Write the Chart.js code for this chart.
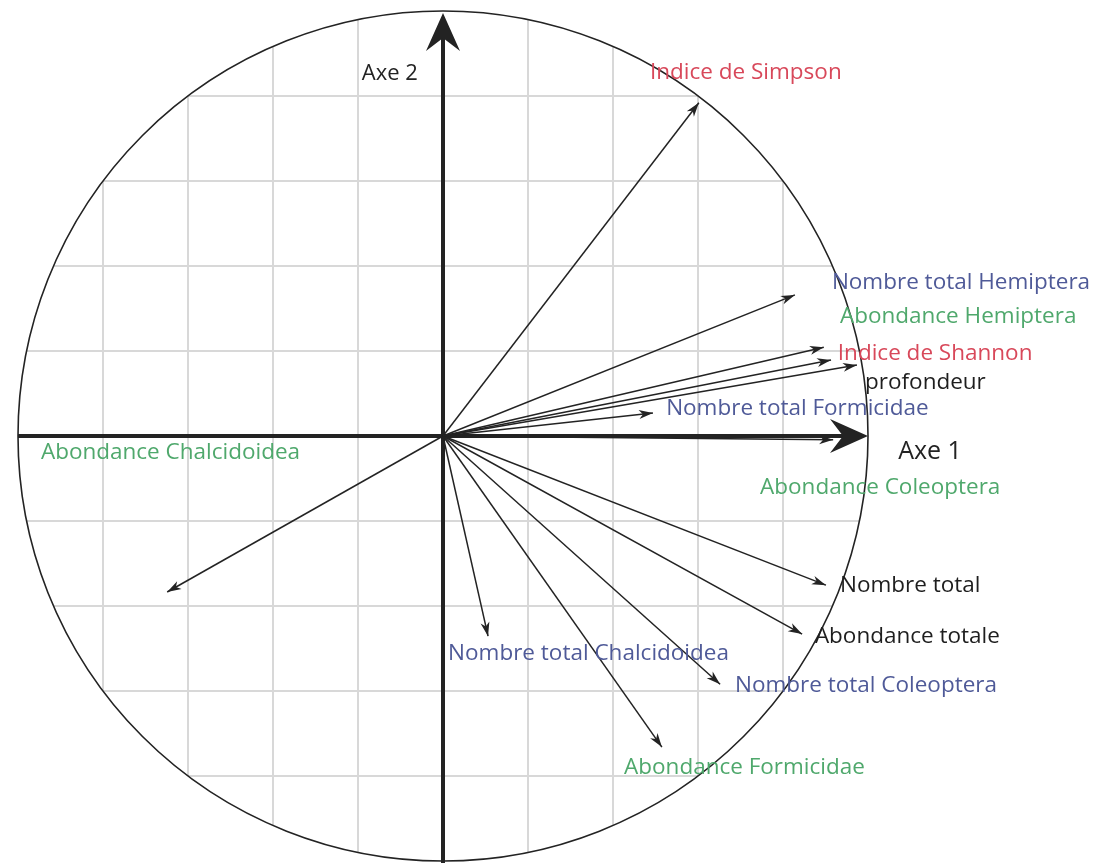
<!DOCTYPE html>
<html>
<head>
<meta charset="utf-8">
<title>Cercle des corrélations</title>
<script src="https://cdn.jsdelivr.net/npm/chart.js@4.4.1/dist/chart.umd.min.js"></script>
<style>
  html, body { margin: 0; padding: 0; background: #fff; }
  canvas { display: block; }
</style>
</head>
<body>
<canvas id="acp" width="1100" height="863"></canvas>
<script>
// variables projetées sur le plan factoriel 1-2
const variables = [
  'Indice de Simpson',
  'Nombre total Hemiptera',
  'Abondance Hemiptera',
  'Indice de Shannon',
  'profondeur',
  'Nombre total Formicidae',
  'Abondance Coleoptera',
  'Nombre total',
  'Abondance totale',
  'Nombre total Coleoptera',
  'Abondance Formicidae',
  'Nombre total Chalcidoidea',
  'Abondance Chalcidoidea'
];
const axe1 = [0.602, 0.828, 0.896, 0.913, 0.974, 0.494, 0.918, 0.901, 0.845, 0.652, 0.515, 0.106, -0.649];
const axe2 = [0.784, 0.332, 0.209, 0.179, 0.167, 0.054, -0.009, -0.351, -0.466, -0.584, -0.732, -0.471, -0.367];

// couleur et emplacement (coin gauche, milieu du texte) de chaque étiquette
const labelColours = ['#d8485a', '#4f5a98', '#4fa86c', '#d8485a', '#1e1e1e', '#4f5a98', '#4fa86c',
                      '#1e1e1e', '#1e1e1e', '#4f5a98', '#4fa86c', '#4f5a98', '#4fa86c'];
const labelPos = [
  [0.487, 0.856], [0.915, 0.362], [0.934, 0.280], [0.929, 0.195], [0.993, 0.125],
  [0.525, 0.064], [0.746, -0.122], [0.934, -0.353], [0.875, -0.473], [0.687, -0.588],
  [0.426, -0.781], [0.012, -0.513], [-0.946, -0.038]
];

const FONT = '"Open Sans", "DejaVu Sans", sans-serif';
const INK = '#232323';

// petite flèche pleine avec encoche, pointe en (x, y)
function arrowHead(ctx, x, y, angle, len, half, notch) {
  ctx.save();
  ctx.translate(x, y);
  ctx.rotate(angle);
  ctx.beginPath();
  ctx.moveTo(0, 0);
  ctx.lineTo(-len, -half);
  ctx.lineTo(-len + notch, 0);
  ctx.lineTo(-len, half);
  ctx.closePath();
  ctx.fill();
  ctx.restore();
}

const cerclePlugin = {
  id: 'cercle',
  beforeDatasetsDraw(chart) {
    const { ctx, scales: { x, y } } = chart;
    const cx = x.getPixelForValue(0), cy = y.getPixelForValue(0);
    const r = x.getPixelForValue(1) - cx;

    // quadrillage limité au cercle
    ctx.save();
    ctx.beginPath();
    ctx.arc(cx, cy, r, 0, Math.PI * 2);
    ctx.clip();
    ctx.strokeStyle = '#d8d8d8';
    ctx.lineWidth = 2;
    x.ticks.forEach(t => {
      if (Math.abs(t.value) < 1e-6 || Math.abs(t.value) >= 1) return;
      const px = x.getPixelForValue(t.value);
      ctx.beginPath(); ctx.moveTo(px, cy - r); ctx.lineTo(px, cy + r); ctx.stroke();
    });
    y.ticks.forEach(t => {
      if (Math.abs(t.value) < 1e-6 || Math.abs(t.value) >= 1) return;
      const py = y.getPixelForValue(t.value);
      ctx.beginPath(); ctx.moveTo(cx - r, py); ctx.lineTo(cx + r, py); ctx.stroke();
    });
    ctx.restore();

    // cercle des corrélations
    ctx.save();
    ctx.strokeStyle = INK;
    ctx.lineWidth = 1.6;
    ctx.beginPath();
    ctx.arc(cx, cy, r, 0, Math.PI * 2);
    ctx.stroke();

    // axes factoriels
    ctx.lineWidth = 4;
    ctx.beginPath();
    ctx.moveTo(cx - r, cy); ctx.lineTo(cx + r - 20, cy);
    ctx.moveTo(cx, chart.height); ctx.lineTo(cx, cy - r + 20);
    ctx.stroke();
    ctx.fillStyle = INK;
    arrowHead(ctx, cx + r, cy, 0, 38, 17, 13);
    arrowHead(ctx, cx, cy - r + 2, -Math.PI / 2, 38, 17, 13);
    ctx.restore();
  },
  afterDatasetsDraw(chart) {
    const { ctx, scales: { x, y } } = chart;
    const cx = x.getPixelForValue(0), cy = y.getPixelForValue(0);
    ctx.save();
    ctx.fillStyle = INK;
    chart.data.datasets.forEach((ds, i) => {
      const tip = chart.getDatasetMeta(i).data[1];
      const a = Math.atan2(tip.y - cy, tip.x - cx);
      arrowHead(ctx, tip.x, tip.y, a, 14, 4.5, 4);
    });

    ctx.textAlign = 'left';
    ctx.textBaseline = 'middle';
    ctx.font = '22.5px ' + FONT;
    variables.forEach((name, i) => {
      ctx.fillStyle = labelColours[i];
      ctx.fillText(name, x.getPixelForValue(labelPos[i][0]), y.getPixelForValue(labelPos[i][1]));
    });

    ctx.fillStyle = INK;
    ctx.font = '22px ' + FONT;
    ctx.fillText('Axe 2', x.getPixelForValue(-0.191), y.getPixelForValue(0.852));
    ctx.font = '25px ' + FONT;
    ctx.fillText('Axe 1', x.getPixelForValue(1.071), y.getPixelForValue(-0.038));
    ctx.restore();
  }
};

const datasets = variables.map((name, i) => ({
  label: name,
  data: [{ x: 0, y: 0 }, { x: axe1[i], y: axe2[i] }],
  showLine: true,
  borderColor: INK,
  borderWidth: 1.5,
  pointRadius: 0
}));

new Chart(document.getElementById('acp'), {
  type: 'scatter',
  data: { datasets },
  options: {
    responsive: false,
    animation: false,
    layout: { padding: { left: 18, right: 232, top: 11, bottom: 2 } },
    scales: {
      x: { type: 'linear', min: -1, max: 1, display: false, ticks: { stepSize: 0.2 } },
      y: { type: 'linear', min: -1, max: 1, display: false, ticks: { stepSize: 0.2 } }
    },
    plugins: {
      legend: { display: false },
      tooltip: { enabled: false }
    }
  },
  plugins: [cerclePlugin]
});
</script>
</body>
</html>
